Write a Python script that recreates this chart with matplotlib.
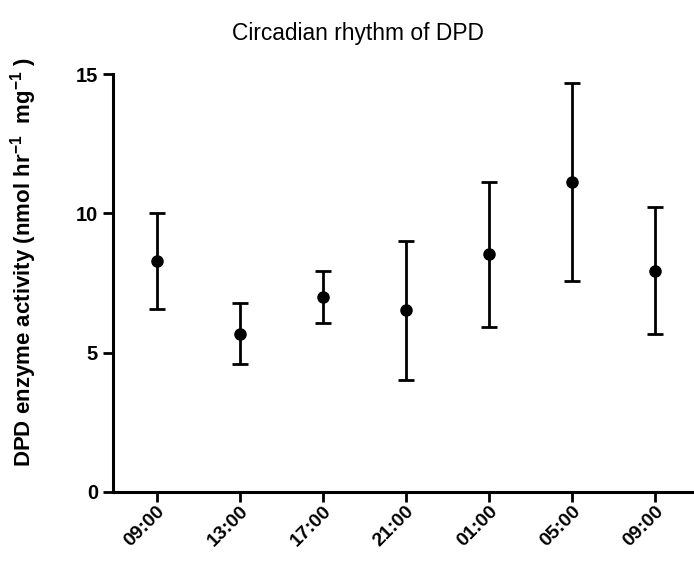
import matplotlib
matplotlib.use("Agg")
import matplotlib.pyplot as plt
import matplotlib.transforms as mtransforms
import numpy as np

# Mean DPD activity and SD at each sampling time
times = ["09:00", "13:00", "17:00", "21:00", "01:00", "05:00", "09:00"]
activity = [8.28, 5.68, 7.00, 6.52, 8.53, 11.14, 7.94]
sd = [1.72, 1.10, 0.94, 2.49, 2.61, 3.56, 2.28]

plt.rcParams["font.family"] = ["Liberation Sans", "DejaVu Sans"]
plt.rcParams["mathtext.fontset"] = "custom"
plt.rcParams["mathtext.rm"] = "Liberation Sans:bold"
plt.rcParams["mathtext.bf"] = "Liberation Sans:bold"
plt.rcParams["mathtext.default"] = "bf"


def plot_rhythm(output_path):
    fig = plt.figure(figsize=(6.94, 5.61), dpi=100)
    ax = fig.add_axes([0.1633, 0.1235, 0.8367, 0.7441])

    x = np.arange(len(times))
    ax.errorbar(x, activity, yerr=sd, fmt="o", color="black", ms=8,
                elinewidth=2, capsize=5.5, capthick=2)

    ax.set_xlim(-0.52, len(times) - 0.53)
    ax.set_ylim(0, 15)
    ax.set_yticks([0, 5, 10, 15])
    ax.set_xticks(x)
    ax.set_xticklabels(times, rotation=45, ha="right", va="top",
                       rotation_mode="anchor", fontweight="bold", fontsize=14)
    # nudge the slanted labels so they sit up against the ticks
    shift = mtransforms.ScaledTranslation(0.05, 0.02, fig.dpi_scale_trans)
    for lab in ax.get_xticklabels():
        lab.set_transform(lab.get_transform() + shift)
    for lab in ax.get_yticklabels():
        lab.set_fontweight("bold")
        lab.set_fontsize(14.5)

    for side in ["top", "right"]:
        ax.spines[side].set_visible(False)
    for side in ["left", "bottom"]:
        ax.spines[side].set_linewidth(2.2)
    ax.tick_params(width=2, length=7, direction="out")
    ax.tick_params(axis="x", pad=1)
    ax.tick_params(axis="y", pad=4)

    ax.set_ylabel("DPD enzyme activity (nmol hr$^{-1}$  mg$^{-1}$ )",
                  fontweight="bold", fontsize=16)
    ax.yaxis.set_label_coords(-0.128, 0.55)

    fig.text(358 / 694, 0.941, "Circadian rhythm of DPD", fontsize=16.4,
             ha="center", va="center")

    fig.savefig(output_path, dpi=100)
    plt.close(fig)


if __name__ == "__main__":
    plot_rhythm("out.png")
